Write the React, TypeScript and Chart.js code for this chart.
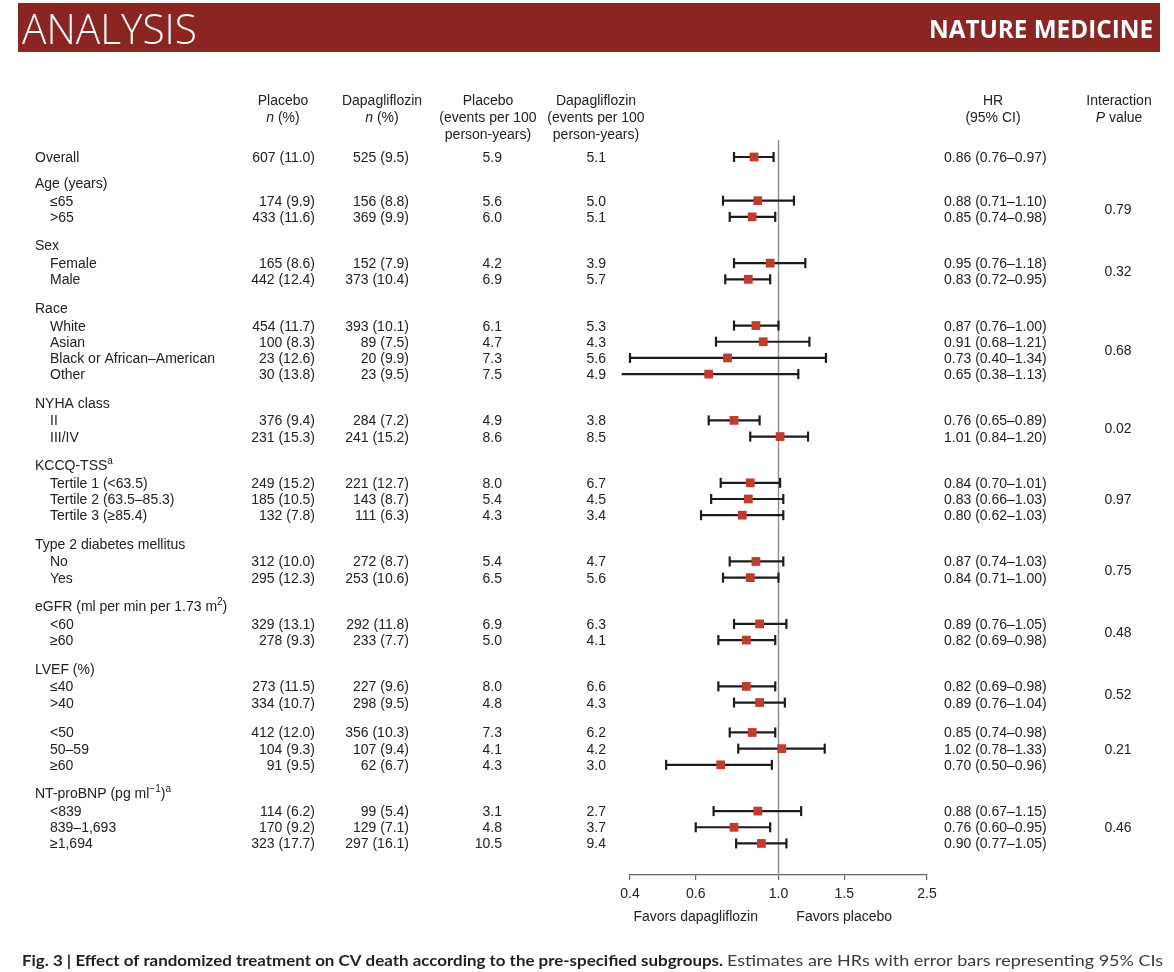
import React, { useEffect, useRef } from 'react';
import { Chart, registerables } from 'chart.js';

Chart.register(...registerables);

// ---------- data ----------
const rowLabels = [
  'Overall',
  'Age (years)', '≤65', '>65',
  'Sex', 'Female', 'Male',
  'Race', 'White', 'Asian', 'Black or African–American', 'Other',
  'NYHA class', 'II', 'III/IV',
  'KCCQ-TSS^{a}', 'Tertile 1 (<63.5)', 'Tertile 2 (63.5–85.3)', 'Tertile 3 (≥85.4)',
  'Type 2 diabetes mellitus', 'No', 'Yes',
  'eGFR (ml per min per 1.73 m^{2})', '<60', '≥60',
  'LVEF (%)', '≤40', '>40', '<50', '50–59', '≥60',
  'NT-proBNP (pg ml^{−1})^{a}', '<839', '839–1,693', '≥1,694',
];
const rowKinds = [
  'overall',
  'group', 'sub', 'sub',
  'group', 'sub', 'sub',
  'group', 'sub', 'sub', 'sub', 'sub',
  'group', 'sub', 'sub',
  'group', 'sub', 'sub', 'sub',
  'group', 'sub', 'sub',
  'group', 'sub', 'sub',
  'group', 'sub', 'sub', 'split', 'sub', 'sub',
  'group', 'sub', 'sub', 'sub',
];
const placeboN = [607, null, 174, 433, null, 165, 442, null, 454, 100, 23, 30, null, 376, 231, null, 249, 185, 132, null, 312, 295, null, 329, 278, null, 273, 334, 412, 104, 91, null, 114, 170, 323];
const placeboPct = [11.0, null, 9.9, 11.6, null, 8.6, 12.4, null, 11.7, 8.3, 12.6, 13.8, null, 9.4, 15.3, null, 15.2, 10.5, 7.8, null, 10.0, 12.3, null, 13.1, 9.3, null, 11.5, 10.7, 12.0, 9.3, 9.5, null, 6.2, 9.2, 17.7];
const dapaN = [525, null, 156, 369, null, 152, 373, null, 393, 89, 20, 23, null, 284, 241, null, 221, 143, 111, null, 272, 253, null, 292, 233, null, 227, 298, 356, 107, 62, null, 99, 129, 297];
const dapaPct = [9.5, null, 8.8, 9.9, null, 7.9, 10.4, null, 10.1, 7.5, 9.9, 9.5, null, 7.2, 15.2, null, 12.7, 8.7, 6.3, null, 8.7, 10.6, null, 11.8, 7.7, null, 9.6, 9.5, 10.3, 9.4, 6.7, null, 5.4, 7.1, 16.1];
const placeboRate = [5.9, null, 5.6, 6.0, null, 4.2, 6.9, null, 6.1, 4.7, 7.3, 7.5, null, 4.9, 8.6, null, 8.0, 5.4, 4.3, null, 5.4, 6.5, null, 6.9, 5.0, null, 8.0, 4.8, 7.3, 4.1, 4.3, null, 3.1, 4.8, 10.5];
const dapaRate = [5.1, null, 5.0, 5.1, null, 3.9, 5.7, null, 5.3, 4.3, 5.6, 4.9, null, 3.8, 8.5, null, 6.7, 4.5, 3.4, null, 4.7, 5.6, null, 6.3, 4.1, null, 6.6, 4.3, 6.2, 4.2, 3.0, null, 2.7, 3.7, 9.4];
const hr = [0.86, null, 0.88, 0.85, null, 0.95, 0.83, null, 0.87, 0.91, 0.73, 0.65, null, 0.76, 1.01, null, 0.84, 0.83, 0.80, null, 0.87, 0.84, null, 0.89, 0.82, null, 0.82, 0.89, 0.85, 1.02, 0.70, null, 0.88, 0.76, 0.90];
const hrLow = [0.76, null, 0.71, 0.74, null, 0.76, 0.72, null, 0.76, 0.68, 0.40, 0.38, null, 0.65, 0.84, null, 0.70, 0.66, 0.62, null, 0.74, 0.71, null, 0.76, 0.69, null, 0.69, 0.76, 0.74, 0.78, 0.50, null, 0.67, 0.60, 0.77];
const hrHigh = [0.97, null, 1.10, 0.98, null, 1.18, 0.95, null, 1.00, 1.21, 1.34, 1.13, null, 0.89, 1.20, null, 1.01, 1.03, 1.03, null, 1.03, 1.00, null, 1.05, 0.98, null, 0.98, 1.04, 0.98, 1.33, 0.96, null, 1.15, 0.95, 1.05];
const interactionP = ['0.79', '0.32', '0.68', '0.02', '0.97', '0.75', '0.48', '0.52', '0.21', '0.46'];
const xTicks = [0.4, 0.6, 1.0, 1.5, 2.5];
const favorLabels = ['Favors dapagliflozin', 'Favors placebo'];
const favorAt = [0.6, 1.5];

// ---------- layout helpers ----------
const FONT = '"Liberation Sans", Arial, Helvetica, sans-serif';
const TEXT = '#222222';
const RED = '#c23c2e';
const BAR = '#1c1c1c';

function rowPositions(): number[] {
  const pos: number[] = [];
  rowKinds.forEach((k, i) => {
    if (i === 0) { pos.push(0); return; }
    const prev = rowKinds[i - 1];
    let step = 1;
    if (k === 'group') step = prev === 'overall' ? 1.6 : 1.76;
    else if (k === 'split') step = 1.85;
    else if (prev === 'group') step = 1.1;
    pos.push(pos[i - 1] + step);
  });
  return pos;
}
const rowPos = rowPositions();
const yMin = -1.05;
const yMax = rowPos[rowPos.length - 1] + 1.95;

function blocks(): { first: number; last: number }[] {
  const out: { first: number; last: number }[] = [];
  rowKinds.forEach((k, i) => {
    if (k !== 'sub' && k !== 'split') return;
    const prev = rowKinds[i - 1];
    if (k === 'split' || prev === 'group') out.push({ first: i, last: i });
    else out[out.length - 1].last = i;
  });
  return out;
}

type Seg = { t: string; sup?: boolean; it?: boolean };
function parseRich(s: string): Seg[] {
  const segs: Seg[] = [];
  const re = /\^\{([^}]*)\}|\*([^*]*)\*/g;
  let last = 0;
  let m: RegExpExecArray | null;
  while ((m = re.exec(s))) {
    if (m.index > last) segs.push({ t: s.slice(last, m.index) });
    if (m[1] !== undefined) segs.push({ t: m[1], sup: true });
    else segs.push({ t: m[2], it: true });
    last = re.lastIndex;
  }
  if (last < s.length) segs.push({ t: s.slice(last) });
  return segs;
}
function drawRich(ctx: CanvasRenderingContext2D, s: string, x: number, y: number, align: string, size = 14) {
  const segs = parseRich(s);
  const fontFor = (g: Seg) => `${g.it ? 'italic ' : ''}${g.sup ? Math.round(size * 0.68) : size}px ${FONT}`;
  const widths = segs.map((g) => { ctx.font = fontFor(g); return ctx.measureText(g.t).width; });
  const total = widths.reduce((a, b) => a + b, 0);
  let cx = align === 'left' ? x : align === 'right' ? x - total : x - total / 2;
  ctx.textAlign = 'left';
  ctx.textBaseline = 'alphabetic';
  ctx.fillStyle = TEXT;
  segs.forEach((g, i) => {
    ctx.font = fontFor(g);
    ctx.fillText(g.t, cx, g.sup ? y - size * 0.42 : y);
    cx += widths[i];
  });
}
function drawFit(ctx: CanvasRenderingContext2D, text: string, x: number, y: number, w: number, font: string, color: string) {
  ctx.save();
  ctx.font = font;
  const m = ctx.measureText(text).width;
  ctx.translate(x, y);
  ctx.scale(w / m, 1);
  ctx.fillStyle = color;
  ctx.textAlign = 'left';
  ctx.textBaseline = 'alphabetic';
  ctx.fillText(text, 0, 0);
  ctx.restore();
}

const tablePlugin = {
  id: 'forestTable',
  afterDraw(chart: any) {
    const ctx: CanvasRenderingContext2D = chart.ctx;
    const ys = chart.scales.y;
    const xs = chart.scales.x;
    ctx.save();

    // banner
    ctx.fillStyle = '#8a2521';
    ctx.fillRect(18, 3, 1142, 49);
    drawFit(ctx, 'ANALYSIS', 22, 44, 175, '300 42px "Open Sans", sans-serif', '#ffffff');
    drawFit(ctx, 'NATURE MEDICINE', 929, 38, 224, 'bold 25px "Open Sans", sans-serif', '#ffffff');

    // column headers
    const hdr = (lines: string[], cx: number) => lines.forEach((l, i) => drawRich(ctx, l, cx, 105 + i * 17, 'center'));
    hdr(['Placebo', '*n* (%)'], 283);
    hdr(['Dapagliflozin', '*n* (%)'], 382);
    hdr(['Placebo', '(events per 100', 'person-years)'], 488);
    hdr(['Dapagliflozin', '(events per 100', 'person-years)'], 596);
    hdr(['HR', '(95% CI)'], 993);
    hdr(['Interaction', '*P* value'], 1119);

    // rows
    rowLabels.forEach((label, i) => {
      const py = ys.getPixelForValue(rowPos[i]) + 5;
      const kind = rowKinds[i];
      drawRich(ctx, label, kind === 'group' || kind === 'overall' ? 35 : 50, py, 'left');
      if (placeboN[i] == null) return;
      drawRich(ctx, `${placeboN[i]} (${(placeboPct[i] as number).toFixed(1)})`, 315, py, 'right');
      drawRich(ctx, `${dapaN[i]} (${(dapaPct[i] as number).toFixed(1)})`, 409, py, 'right');
      drawRich(ctx, (placeboRate[i] as number).toFixed(1), 502, py, 'right');
      drawRich(ctx, (dapaRate[i] as number).toFixed(1), 606, py, 'right');
      drawRich(ctx, `${(hr[i] as number).toFixed(2)} (${(hrLow[i] as number).toFixed(2)}–${(hrHigh[i] as number).toFixed(2)})`, 944, py, 'left');
    });

    // interaction P values
    blocks().forEach((b, j) => {
      const mid = (rowPos[b.first] + rowPos[b.last]) / 2;
      drawRich(ctx, interactionP[j], 1118, ys.getPixelForValue(mid) + 5, 'center');
    });

    // favors labels
    favorLabels.forEach((t, i) => drawRich(ctx, t, xs.getPixelForValue(favorAt[i]), 921, 'center'));

    // caption
    const capBold = 'Fig. 3 | Effect of randomized treatment on CV death according to the pre-specified subgroups.';
    const capReg = 'Estimates are HRs with error bars representing 95% CIs';
    drawFit(ctx, capBold, 22, 966, 701, 'bold 16px Lato, sans-serif', '#231f20');
    drawFit(ctx, capReg, 727, 966, 436, '16px Lato, sans-serif', '#3c3c3c');

    ctx.restore();
  },
};

export default function App() {
  const ref = useRef<HTMLCanvasElement | null>(null);
  useEffect(() => {
    document.body.style.margin = '0';
    document.body.style.overflow = 'hidden';
    if (!ref.current) return;
    const idx = rowKinds.map((_, i) => i).filter((i) => hr[i] != null);
    const ciData: any[] = [];
    idx.forEach((i) => {
      ciData.push({ x: hrLow[i], y: rowPos[i] }, { x: hrHigh[i], y: rowPos[i] }, { x: null, y: null });
    });
    const capData = idx.flatMap((i) => [{ x: hrLow[i], y: rowPos[i] }, { x: hrHigh[i], y: rowPos[i] }]);
    const ptData = idx.map((i) => ({ x: hr[i], y: rowPos[i] }));

    const chart = new Chart(ref.current, {
      type: 'scatter',
      data: {
        datasets: [
          {
            data: ptData,
            pointStyle: 'rect',
            pointRadius: 6.2,
            pointBackgroundColor: RED,
            pointBorderColor: RED,
            pointBorderWidth: 0,
            order: 0,
            clip: false,
          } as any,
          {
            data: capData,
            pointStyle: 'line',
            pointRotation: 90,
            pointRadius: 5,
            pointBorderColor: BAR,
            pointBorderWidth: 2.2,
            order: 1,
            clip: false,
          } as any,
          {
            data: ciData,
            showLine: true,
            spanGaps: false,
            borderColor: BAR,
            borderWidth: 2.2,
            pointRadius: 0,
            order: 2,
            clip: false,
          } as any,
          {
            data: [{ x: 1, y: yMin }, { x: 1, y: yMax }],
            showLine: true,
            borderColor: '#8e8e8e',
            borderWidth: 1.4,
            pointRadius: 0,
            order: 3,
            clip: false,
          } as any,
        ],
      },
      options: {
        responsive: false,
        animation: false,
        events: [],
        layout: { padding: { left: 630, right: 247, top: 140, bottom: 52 } },
        plugins: { legend: { display: false }, tooltip: { enabled: false } },
        scales: {
          x: {
            type: 'logarithmic',
            position: 'bottom',
            min: 0.4,
            max: 2.5,
            afterBuildTicks: (s: any) => { s.ticks = xTicks.map((v) => ({ value: v })); },
            afterFit: (s: any) => { s.height = 45; },
            ticks: {
              autoSkip: false,
              maxRotation: 0,
              padding: 6,
              color: TEXT,
              font: { family: FONT, size: 14 },
              callback: (v: any) => Number(v).toFixed(1),
            },
            grid: { drawOnChartArea: false, drawTicks: true, tickLength: 5, color: '#666666', lineWidth: 1.2 },
            border: { display: true, color: '#666666', width: 1.2 },
          },
          y: { type: 'linear', reverse: true, min: yMin, max: yMax, display: false },
        },
      } as any,
      plugins: [tablePlugin],
    });
    return () => chart.destroy();
  }, []);
  return <canvas ref={ref} width={1174} height={972} style={{ display: 'block' }} />;
}
